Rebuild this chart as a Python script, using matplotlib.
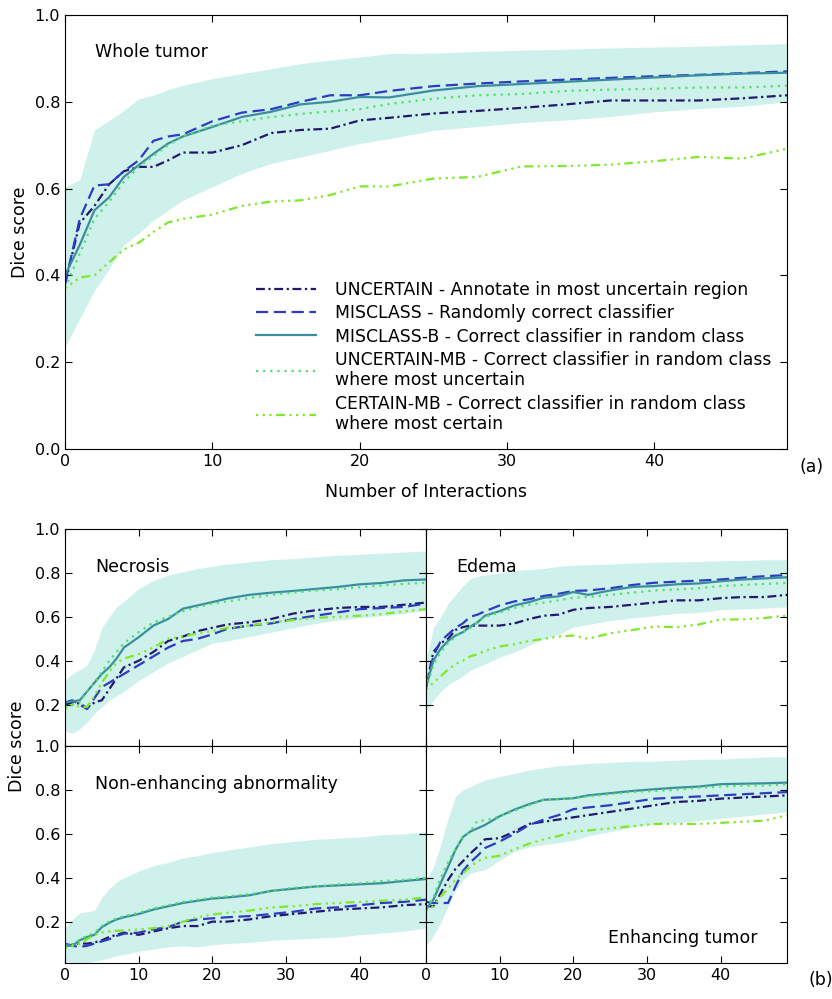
"""Dice score vs number of interactions for five interaction strategies
(a) whole tumor, (b) the four sub-regions
"""

import matplotlib
matplotlib.use('Agg')
from matplotlib import pyplot as plt

# interaction counts at which values were read
x = [0, 1, 2, 3, 4, 5, 6, 7, 8, 10, 12, 14, 16, 18, 20, 22, 25, 28, 31, 34, 37, 40, 43, 46, 49]

# Whole tumor
wt_uncertain = [0.38, 0.52, 0.56, 0.61, 0.64, 0.65, 0.65, 0.665, 0.683, 0.683, 0.70, 0.728, 0.735, 0.738, 0.757,
                0.763, 0.773, 0.779, 0.786, 0.794, 0.803, 0.803, 0.803, 0.808, 0.815]
wt_misclass = [0.38, 0.53, 0.607, 0.61, 0.64, 0.665, 0.71, 0.72, 0.725, 0.755, 0.775, 0.783, 0.80, 0.815, 0.815,
               0.825, 0.836, 0.842, 0.847, 0.851, 0.855, 0.859, 0.862, 0.866, 0.87]
wt_misclass_b = [0.40, 0.47, 0.55, 0.58, 0.627, 0.654, 0.68, 0.704, 0.72, 0.742, 0.765, 0.777, 0.794, 0.80, 0.811,
                 0.81, 0.826, 0.836, 0.841, 0.846, 0.851, 0.856, 0.861, 0.865, 0.867]
wt_uncertain_mb = [0.37, 0.45, 0.53, 0.57, 0.615, 0.65, 0.675, 0.70, 0.72, 0.745, 0.755, 0.765, 0.772, 0.778, 0.783,
                   0.795, 0.807, 0.815, 0.818, 0.825, 0.828, 0.83, 0.833, 0.833, 0.837]
wt_certain_mb = [0.37, 0.395, 0.40, 0.43, 0.46, 0.475, 0.50, 0.522, 0.53, 0.54, 0.56, 0.57, 0.573, 0.585, 0.605,
                 0.605, 0.623, 0.627, 0.651, 0.652, 0.655, 0.663, 0.673, 0.669, 0.692]
wt_low = [0.235, 0.30, 0.365, 0.415, 0.47, 0.497, 0.527, 0.55, 0.573, 0.604, 0.635, 0.658, 0.673, 0.688, 0.704,
          0.715, 0.734, 0.743, 0.752, 0.758, 0.766, 0.777, 0.784, 0.79, 0.80]
wt_high = [0.604, 0.62, 0.735, 0.757, 0.78, 0.807, 0.815, 0.828, 0.838, 0.853, 0.865, 0.876, 0.888, 0.896, 0.903,
           0.911, 0.912, 0.916, 0.919, 0.921, 0.924, 0.926, 0.928, 0.931, 0.934]

# Necrosis
ne_uncertain = [0.20, 0.21, 0.205, 0.185, 0.21, 0.22, 0.27, 0.32, 0.37, 0.40, 0.44, 0.49, 0.51, 0.535, 0.55,
                0.565, 0.575, 0.59, 0.615, 0.63, 0.64, 0.645, 0.645, 0.655, 0.665]
ne_misclass = [0.21, 0.22, 0.20, 0.18, 0.23, 0.28, 0.30, 0.32, 0.34, 0.38, 0.42, 0.46, 0.49, 0.50, 0.52,
               0.545, 0.56, 0.57, 0.59, 0.605, 0.62, 0.635, 0.64, 0.645, 0.66]
ne_misclass_b = [0.21, 0.215, 0.22, 0.26, 0.30, 0.34, 0.37, 0.41, 0.46, 0.507, 0.56, 0.59, 0.637, 0.652, 0.667,
                 0.683, 0.70, 0.71, 0.718, 0.727, 0.736, 0.748, 0.754, 0.766, 0.77]
ne_uncertain_mb = [0.19, 0.20, 0.21, 0.26, 0.30, 0.35, 0.40, 0.44, 0.48, 0.53, 0.575, 0.60, 0.625, 0.645, 0.66,
                   0.67, 0.685, 0.70, 0.71, 0.72, 0.725, 0.735, 0.742, 0.75, 0.755]
ne_certain_mb = [0.18, 0.20, 0.19, 0.19, 0.24, 0.30, 0.35, 0.39, 0.41, 0.43, 0.46, 0.50, 0.51, 0.525, 0.535,
                 0.55, 0.56, 0.575, 0.585, 0.595, 0.60, 0.605, 0.612, 0.625, 0.635]
ne_low = [0.08, 0.07, 0.09, 0.12, 0.16, 0.19, 0.22, 0.24, 0.26, 0.31, 0.35, 0.39, 0.42, 0.45, 0.48,
          0.49, 0.51, 0.53, 0.55, 0.57, 0.585, 0.595, 0.605, 0.615, 0.63]
ne_high = [0.31, 0.34, 0.36, 0.38, 0.45, 0.55, 0.60, 0.645, 0.67, 0.728, 0.765, 0.79, 0.805, 0.82, 0.83,
           0.84, 0.85, 0.86, 0.865, 0.873, 0.88, 0.885, 0.89, 0.895, 0.90]

# Edema
ed_uncertain = [0.28, 0.44, 0.48, 0.50, 0.54, 0.553, 0.56, 0.56, 0.56, 0.56, 0.57, 0.59, 0.605, 0.61, 0.632,
                0.64, 0.645, 0.655, 0.665, 0.675, 0.675, 0.685, 0.69, 0.69, 0.70]
ed_misclass = [0.28, 0.42, 0.49, 0.52, 0.55, 0.57, 0.60, 0.61, 0.625, 0.652, 0.67, 0.68, 0.695, 0.705, 0.718,
               0.72, 0.73, 0.745, 0.755, 0.76, 0.765, 0.77, 0.778, 0.785, 0.79]
ed_misclass_b = [0.28, 0.40, 0.455, 0.49, 0.515, 0.53, 0.555, 0.575, 0.605, 0.626, 0.652, 0.667, 0.687, 0.693, 0.713,
                 0.70, 0.72, 0.736, 0.74, 0.748, 0.752, 0.762, 0.77, 0.775, 0.78]
ed_uncertain_mb = [0.27, 0.38, 0.44, 0.48, 0.51, 0.53, 0.55, 0.575, 0.60, 0.62, 0.64, 0.655, 0.665, 0.675, 0.687,
                   0.69, 0.70, 0.71, 0.72, 0.725, 0.73, 0.74, 0.745, 0.75, 0.754]
ed_certain_mb = [0.27, 0.30, 0.33, 0.36, 0.385, 0.40, 0.42, 0.43, 0.445, 0.465, 0.475, 0.49, 0.50, 0.51, 0.515,
                 0.50, 0.525, 0.54, 0.556, 0.553, 0.565, 0.588, 0.588, 0.595, 0.606]
ed_low = [0.17, 0.22, 0.26, 0.29, 0.31, 0.33, 0.355, 0.37, 0.385, 0.416, 0.44, 0.47, 0.50, 0.52, 0.553,
          0.565, 0.583, 0.595, 0.605, 0.615, 0.62, 0.632, 0.636, 0.64, 0.645]
ed_high = [0.40, 0.55, 0.60, 0.66, 0.70, 0.74, 0.774, 0.785, 0.79, 0.80, 0.81, 0.815, 0.82, 0.83, 0.835,
           0.837, 0.84, 0.845, 0.848, 0.85, 0.852, 0.855, 0.857, 0.86, 0.86]

# Non-enhancing abnormality
na_uncertain = [0.09, 0.095, 0.10, 0.10, 0.105, 0.115, 0.13, 0.14, 0.15, 0.14, 0.155, 0.17, 0.18, 0.18, 0.20,
                0.20, 0.21, 0.225, 0.235, 0.245, 0.255, 0.26, 0.265, 0.275, 0.28]
na_misclass = [0.10, 0.09, 0.085, 0.09, 0.10, 0.11, 0.12, 0.135, 0.145, 0.15, 0.165, 0.175, 0.20, 0.21, 0.215,
               0.22, 0.225, 0.235, 0.245, 0.26, 0.265, 0.275, 0.285, 0.29, 0.30]
na_misclass_b = [0.095, 0.09, 0.115, 0.13, 0.14, 0.175, 0.195, 0.21, 0.22, 0.235, 0.255, 0.27, 0.285, 0.295, 0.305,
                 0.31, 0.32, 0.34, 0.35, 0.36, 0.365, 0.37, 0.375, 0.385, 0.394]
na_uncertain_mb = [0.085, 0.09, 0.12, 0.135, 0.15, 0.18, 0.20, 0.215, 0.225, 0.24, 0.26, 0.275, 0.29, 0.30, 0.31,
                   0.315, 0.325, 0.34, 0.355, 0.36, 0.37, 0.375, 0.385, 0.39, 0.40]
na_certain_mb = [0.08, 0.09, 0.10, 0.12, 0.14, 0.15, 0.155, 0.158, 0.16, 0.165, 0.17, 0.18, 0.20, 0.22, 0.232,
                 0.24, 0.25, 0.265, 0.27, 0.28, 0.285, 0.29, 0.295, 0.30, 0.31]
na_low = [0.02, 0.015, 0.015, 0.015, 0.02, 0.027, 0.035, 0.045, 0.05, 0.065, 0.075, 0.085, 0.09, 0.085, 0.095,
          0.10, 0.105, 0.115, 0.12, 0.125, 0.13, 0.14, 0.148, 0.157, 0.171]
na_high = [0.17, 0.21, 0.24, 0.245, 0.25, 0.31, 0.35, 0.38, 0.40, 0.43, 0.455, 0.47, 0.49, 0.50, 0.515,
           0.525, 0.54, 0.555, 0.565, 0.575, 0.58, 0.585, 0.595, 0.60, 0.61]

# Enhancing tumor
en_uncertain = [0.27, 0.27, 0.33, 0.39, 0.44, 0.475, 0.51, 0.54, 0.575, 0.58, 0.61, 0.645, 0.655, 0.665, 0.675,
                0.685, 0.70, 0.715, 0.73, 0.745, 0.75, 0.76, 0.765, 0.77, 0.775]
en_misclass = [0.29, 0.285, 0.285, 0.285, 0.36, 0.43, 0.47, 0.50, 0.535, 0.565, 0.60, 0.64, 0.665, 0.685, 0.712,
               0.72, 0.73, 0.745, 0.76, 0.765, 0.77, 0.775, 0.78, 0.785, 0.79]
en_misclass_b = [0.255, 0.30, 0.376, 0.45, 0.527, 0.585, 0.61, 0.625, 0.64, 0.68, 0.71, 0.735, 0.755, 0.758, 0.762,
                 0.775, 0.785, 0.795, 0.803, 0.81, 0.815, 0.826, 0.828, 0.83, 0.833]
en_uncertain_mb = [0.26, 0.31, 0.40, 0.47, 0.53, 0.58, 0.61, 0.66, 0.66, 0.68, 0.705, 0.73, 0.755, 0.758, 0.762,
                   0.77, 0.78, 0.79, 0.795, 0.80, 0.81, 0.815, 0.82, 0.82, 0.825]
en_certain_mb = [0.25, 0.27, 0.315, 0.35, 0.39, 0.42, 0.45, 0.475, 0.49, 0.50, 0.53, 0.555, 0.575, 0.59, 0.61,
                 0.615, 0.625, 0.635, 0.645, 0.645, 0.645, 0.65, 0.655, 0.66, 0.685]
en_low = [0.09, 0.135, 0.195, 0.27, 0.345, 0.39, 0.42, 0.43, 0.435, 0.48, 0.52, 0.54, 0.55, 0.56, 0.57,
          0.59, 0.61, 0.63, 0.645, 0.65, 0.66, 0.67, 0.68, 0.69, 0.70]
en_high = [0.39, 0.45, 0.55, 0.67, 0.77, 0.80, 0.815, 0.83, 0.845, 0.86, 0.875, 0.89, 0.90, 0.91, 0.915,
           0.92, 0.925, 0.93, 0.93, 0.935, 0.94, 0.94, 0.945, 0.95, 0.95]

labels = ['UNCERTAIN - Annotate in most uncertain region',
          'MISCLASS - Randomly correct classifier',
          'MISCLASS-B - Correct classifier in random class',
          'UNCERTAIN-MB - Correct classifier in random class\nwhere most uncertain',
          'CERTAIN-MB - Correct classifier in random class\nwhere most certain']

# line styles, one per strategy
styles = [
    dict(color='#24186e', dashes=(4, 1.6, 1, 1.6)),
    dict(color='#2c3cc0', dashes=(5.5, 2.5)),
    dict(color='#3a8ea0', linestyle='-'),
    dict(color='#52e06a', dashes=(1, 2.2)),
    dict(color='#7fe82a', dashes=(1, 2, 1, 2, 1, 2, 4, 2)),
]
band_color = '#cff1eb'


def draw_panel(ax, series, low, high, title, tx, ty, ha='left'):
    ax.fill_between(x, low, high, color=band_color, linewidth=0)
    for values, style, label in zip(series, styles, labels):
        ax.plot(x, values, linewidth=1.6, label=label, **style)
    ax.text(tx, ty, title, transform=ax.transAxes, fontsize=12.5, ha=ha, va='center')
    ax.set_xlim(0, 49)
    ax.set_xticks([0, 10, 20, 30, 40])
    ax.tick_params(direction='in', top=True, right=True, length=5, labelsize=11.5)


if __name__ == '__main__':
    fig = plt.figure(figsize=(8.32, 9.99), dpi=100)

    # (a) whole tumor
    ax = fig.add_axes([0.0781, 0.5506, 0.8678, 0.4344])
    draw_panel(ax, [wt_uncertain, wt_misclass, wt_misclass_b, wt_uncertain_mb, wt_certain_mb],
               wt_low, wt_high, 'Whole tumor', 0.042, 0.915)
    ax.set_ylim(0, 1)
    ax.set_yticks([0, 0.2, 0.4, 0.6, 0.8, 1.0])
    ax.set_ylabel('Dice score', fontsize=12.5)
    ax.set_xlabel('Number of Interactions', fontsize=12.5, labelpad=10)
    ax.legend(loc='lower right', frameon=False, fontsize=12.4, handlelength=3.5, handletextpad=1.1,
              labelspacing=0.3, borderaxespad=0.5)

    # (b) sub-regions
    w, h = 0.4339, 0.2172
    panels = [
        ([0.0781, 0.2533, w, h], [ne_uncertain, ne_misclass, ne_misclass_b, ne_uncertain_mb, ne_certain_mb],
         ne_low, ne_high, 'Necrosis', 0.083, 0.825, 'left'),
        ([0.0781 + w, 0.2533, w, h], [ed_uncertain, ed_misclass, ed_misclass_b, ed_uncertain_mb, ed_certain_mb],
         ed_low, ed_high, 'Edema', 0.083, 0.825, 'left'),
        ([0.0781, 0.0361, w, h], [na_uncertain, na_misclass, na_misclass_b, na_uncertain_mb, na_certain_mb],
         na_low, na_high, 'Non-enhancing abnormality', 0.083, 0.825, 'left'),
        ([0.0781 + w, 0.0361, w, h], [en_uncertain, en_misclass, en_misclass_b, en_uncertain_mb, en_certain_mb],
         en_low, en_high, 'Enhancing tumor', 0.917, 0.115, 'right'),
    ]
    for i, (rect, series, low, high, title, tx, ty, ha) in enumerate(panels):
        ax = fig.add_axes(rect)
        draw_panel(ax, series, low, high, title, tx, ty, ha)
        ax.set_ylim(0.012, 1.0)
        ax.set_yticks([0.2, 0.4, 0.6, 0.8, 1.0])
        if i < 2:
            ax.set_xticklabels([])
        if i % 2 == 1:
            ax.set_yticklabels([])

    fig.text(0.021, 0.2533, 'Dice score', rotation=90, fontsize=12.5, ha='center', va='center')
    fig.text(0.976, 0.533, '(a)', fontsize=12.5, ha='center', va='center')
    fig.text(0.986, 0.019, '(b)', fontsize=12.5, ha='center', va='center')

    plt.savefig('out.png', dpi=100)
